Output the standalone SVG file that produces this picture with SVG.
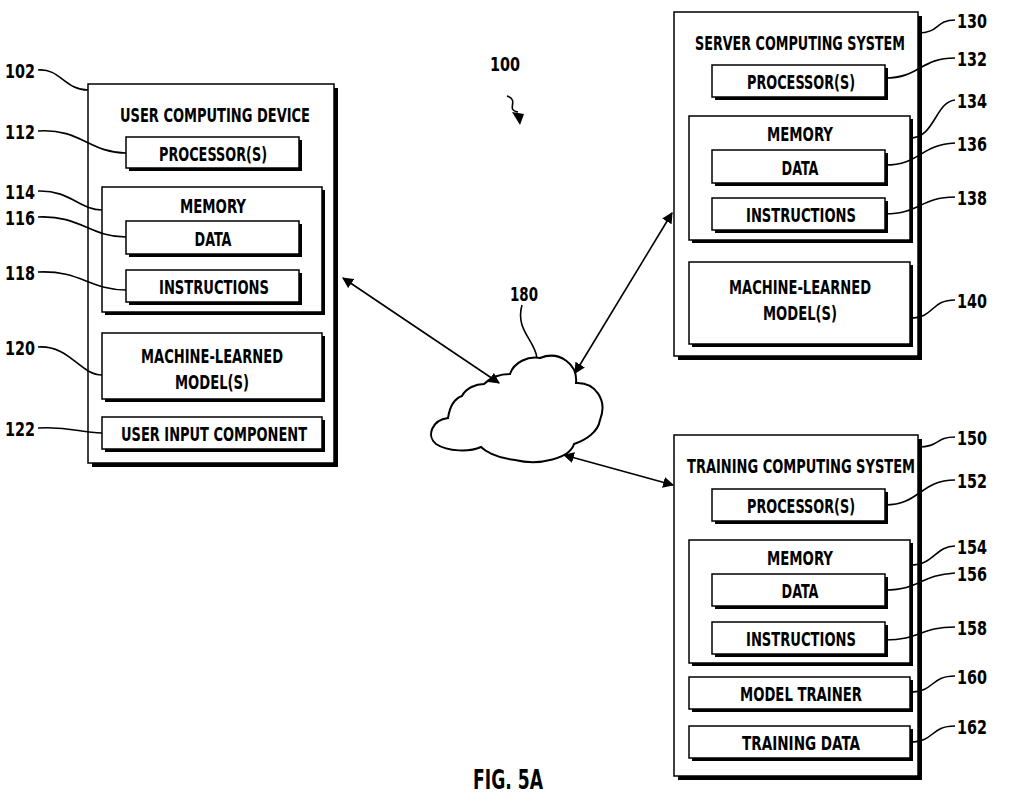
<svg xmlns="http://www.w3.org/2000/svg" width="1024" height="806" viewBox="0 0 1024 806">
<style>
text{font-family:"DejaVu Sans Condensed","Liberation Sans",sans-serif;font-weight:bold;font-size:20px;fill:#000}
.c{text-anchor:middle}
.b{fill:#fff;stroke:#000;stroke-width:1.5}
.s{fill:#000}
.l{fill:none;stroke:#000;stroke-width:1.6}
.n{font-size:20px}
</style>
<defs>
<marker id="a" viewBox="0 0 10 10" refX="9" refY="5" markerWidth="11" markerHeight="11" markerUnits="userSpaceOnUse" orient="auto-start-reverse"><path d="M0,0 L10,5 L0,10 z"/></marker>
</defs>
<rect width="1024" height="806" fill="#fff"/>

<g id="user">
<rect class="s" x="92" y="88" width="246" height="379"/><rect class="b" x="88" y="84" width="246" height="379"/>
<text class="c" x="215" y="122" textLength="190" lengthAdjust="spacingAndGlyphs">USER COMPUTING DEVICE</text>
<rect class="s" x="129" y="140" width="173" height="31"/><rect class="b" x="126" y="137" width="173" height="31"/>
<text class="c" x="213" y="161" textLength="108" lengthAdjust="spacingAndGlyphs">PROCESSOR(S)</text>
<rect class="s" x="105" y="190" width="220" height="125"/><rect class="b" x="102" y="187" width="220" height="125"/>
<text class="c" x="213" y="213" textLength="66" lengthAdjust="spacingAndGlyphs">MEMORY</text>
<rect class="s" x="129" y="224" width="173" height="33"/><rect class="b" x="126" y="221" width="173" height="33"/>
<text class="c" x="213" y="246" textLength="37" lengthAdjust="spacingAndGlyphs">DATA</text>
<rect class="s" x="129" y="273" width="173" height="32"/><rect class="b" x="126" y="270" width="173" height="32"/>
<text class="c" x="214" y="294" textLength="110" lengthAdjust="spacingAndGlyphs">INSTRUCTIONS</text>
<rect class="s" x="105" y="336" width="220" height="66"/><rect class="b" x="102" y="333" width="220" height="66"/>
<text class="c" x="212" y="363" textLength="142" lengthAdjust="spacingAndGlyphs">MACHINE-LEARNED</text><text class="c" x="212" y="389" textLength="74" lengthAdjust="spacingAndGlyphs">MODEL(S)</text>
<rect class="s" x="105" y="420" width="220" height="32"/><rect class="b" x="102" y="417" width="220" height="32"/>
<text class="c" x="214" y="441" textLength="186" lengthAdjust="spacingAndGlyphs">USER INPUT COMPONENT</text>
</g>

<g id="server">
<rect class="s" x="678" y="16" width="244" height="344"/><rect class="b" x="674" y="12" width="244" height="344"/>
<text class="c" x="800" y="50" textLength="210" lengthAdjust="spacingAndGlyphs">SERVER COMPUTING SYSTEM</text>
<rect class="s" x="715" y="68" width="173" height="32"/><rect class="b" x="712" y="65" width="173" height="32"/>
<text class="c" x="801" y="89" textLength="108" lengthAdjust="spacingAndGlyphs">PROCESSOR(S)</text>
<rect class="s" x="692" y="119" width="221" height="124"/><rect class="b" x="689" y="116" width="221" height="124"/>
<text class="c" x="800" y="141" textLength="66" lengthAdjust="spacingAndGlyphs">MEMORY</text>
<rect class="s" x="715" y="153" width="173" height="33"/><rect class="b" x="712" y="150" width="173" height="33"/>
<text class="c" x="800" y="175" textLength="37" lengthAdjust="spacingAndGlyphs">DATA</text>
<rect class="s" x="715" y="201" width="173" height="32"/><rect class="b" x="712" y="198" width="173" height="32"/>
<text class="c" x="801" y="222" textLength="110" lengthAdjust="spacingAndGlyphs">INSTRUCTIONS</text>
<rect class="s" x="692" y="265" width="221" height="82"/><rect class="b" x="689" y="262" width="221" height="82"/>
<text class="c" x="800" y="294" textLength="142" lengthAdjust="spacingAndGlyphs">MACHINE-LEARNED</text><text class="c" x="800" y="320" textLength="74" lengthAdjust="spacingAndGlyphs">MODEL(S)</text>
</g>

<g id="training">
<rect class="s" x="678" y="439" width="244" height="341"/><rect class="b" x="674" y="435" width="244" height="341"/>
<text class="c" x="801" y="473" textLength="228" lengthAdjust="spacingAndGlyphs">TRAINING COMPUTING SYSTEM</text>
<rect class="s" x="715" y="492" width="173" height="32"/><rect class="b" x="712" y="489" width="173" height="32"/>
<text class="c" x="801" y="513" textLength="108" lengthAdjust="spacingAndGlyphs">PROCESSOR(S)</text>
<rect class="s" x="692" y="543" width="221" height="123"/><rect class="b" x="689" y="540" width="221" height="123"/>
<text class="c" x="800" y="565" textLength="66" lengthAdjust="spacingAndGlyphs">MEMORY</text>
<rect class="s" x="715" y="577" width="173" height="32"/><rect class="b" x="712" y="574" width="173" height="32"/>
<text class="c" x="800" y="598" textLength="37" lengthAdjust="spacingAndGlyphs">DATA</text>
<rect class="s" x="715" y="625" width="173" height="32"/><rect class="b" x="712" y="622" width="173" height="32"/>
<text class="c" x="801" y="646" textLength="110" lengthAdjust="spacingAndGlyphs">INSTRUCTIONS</text>
<rect class="s" x="692" y="680" width="221" height="32"/><rect class="b" x="689" y="677" width="221" height="32"/>
<text class="c" x="801" y="701" textLength="122" lengthAdjust="spacingAndGlyphs">MODEL TRAINER</text>
<rect class="s" x="692" y="729" width="221" height="32"/><rect class="b" x="689" y="726" width="221" height="32"/>
<text class="c" x="801" y="750" textLength="118" lengthAdjust="spacingAndGlyphs">TRAINING DATA</text>
</g>

<g id="network">
<path d="M540,358 C560,350 578,365 576,383 C595,382 608,400 600,420 C598,432 586,440 574,444 C570,458 540,466 515,460 C495,458 484,450 481,447 C470,452 448,452 436,444 C426,436 432,420 448,418 C450,405 456,398 462,396 C466,388 476,384 484,384 C490,378 500,374 510,374 C514,362 528,356 540,358 Z" fill="#fff" stroke="#000" stroke-width="2"/>
<text class="c n" x="524" y="301" textLength="28" lengthAdjust="spacingAndGlyphs">180</text>
</g>

<g id="connectors">
<line class="l" x1="343" y1="278" x2="499" y2="383" marker-start="url(#a)" marker-end="url(#a)"/>
<line class="l" x1="672" y1="213" x2="575" y2="373" marker-start="url(#a)" marker-end="url(#a)"/>
<line class="l" x1="564" y1="455" x2="673" y2="485" marker-start="url(#a)" marker-end="url(#a)"/>
<path class="l" d="M522,305 C515,330 535,340 537,358"/>
<path class="l" d="M507,96 C520,100 505,110 518,112" /><path d="M520,125 L512,112 L524,114 z"/>
</g>

<g id="labels">
<text class="n" x="5" y="78" textLength="30" lengthAdjust="spacingAndGlyphs">102</text><path class="l" d="M38,70 C60,68 65,90 88,90"/>
<text class="n" x="5" y="139" textLength="30" lengthAdjust="spacingAndGlyphs">112</text><path class="l" d="M38,131 C80,128 90,153 126,153"/>
<text class="n" x="5" y="199" textLength="30" lengthAdjust="spacingAndGlyphs">114</text><path class="l" d="M38,191 C70,190 80,210 102,210"/>
<text class="n" x="5" y="225" textLength="30" lengthAdjust="spacingAndGlyphs">116</text><path class="l" d="M38,217 C80,215 90,237 126,237"/>
<text class="n" x="5" y="280" textLength="30" lengthAdjust="spacingAndGlyphs">118</text><path class="l" d="M38,272 C80,270 90,290 126,290"/>
<text class="n" x="5" y="355" textLength="30" lengthAdjust="spacingAndGlyphs">120</text><path class="l" d="M38,347 C70,345 80,375 102,375"/>
<text class="n" x="5" y="436" textLength="30" lengthAdjust="spacingAndGlyphs">122</text><path class="l" d="M38,428 C70,426 80,433 102,433"/>
<text class="n" x="957" y="28" textLength="30" lengthAdjust="spacingAndGlyphs">130</text><path class="l" d="M955,20 C935,20 940,33 918,33"/>
<text class="n" x="957" y="66" textLength="30" lengthAdjust="spacingAndGlyphs">132</text><path class="l" d="M955,58 C920,58 920,78 885,78"/>
<text class="n" x="957" y="108" textLength="30" lengthAdjust="spacingAndGlyphs">134</text><path class="l" d="M955,100 C935,102 935,138 910,138"/>
<text class="n" x="957" y="151" textLength="30" lengthAdjust="spacingAndGlyphs">136</text><path class="l" d="M955,143 C920,145 920,165 885,165"/>
<text class="n" x="957" y="205" textLength="30" lengthAdjust="spacingAndGlyphs">138</text><path class="l" d="M955,197 C920,197 920,214 885,214"/>
<text class="n" x="957" y="308" textLength="30" lengthAdjust="spacingAndGlyphs">140</text><path class="l" d="M955,300 C930,300 935,318 910,318"/>
<text class="n" x="957" y="445" textLength="30" lengthAdjust="spacingAndGlyphs">150</text><path class="l" d="M955,437 C935,437 940,447 918,447"/>
<text class="n" x="957" y="488" textLength="30" lengthAdjust="spacingAndGlyphs">152</text><path class="l" d="M955,480 C920,480 920,505 885,505"/>
<text class="n" x="957" y="554" textLength="30" lengthAdjust="spacingAndGlyphs">154</text><path class="l" d="M955,546 C935,546 935,565 910,565"/>
<text class="n" x="957" y="581" textLength="30" lengthAdjust="spacingAndGlyphs">156</text><path class="l" d="M955,573 C920,575 920,590 885,590"/>
<text class="n" x="957" y="635" textLength="30" lengthAdjust="spacingAndGlyphs">158</text><path class="l" d="M955,627 C920,627 920,640 885,640"/>
<text class="n" x="957" y="684" textLength="30" lengthAdjust="spacingAndGlyphs">160</text><path class="l" d="M955,676 C930,676 935,692 910,692"/>
<text class="n" x="957" y="734" textLength="30" lengthAdjust="spacingAndGlyphs">162</text><path class="l" d="M955,726 C930,726 935,742 910,742"/>
<text class="c n" x="505" y="71" textLength="30" lengthAdjust="spacingAndGlyphs">100</text>
<text class="c" x="508" y="789" style="font-size:26px" textLength="70" lengthAdjust="spacingAndGlyphs">FIG. 5A</text>
</g>
</svg>
